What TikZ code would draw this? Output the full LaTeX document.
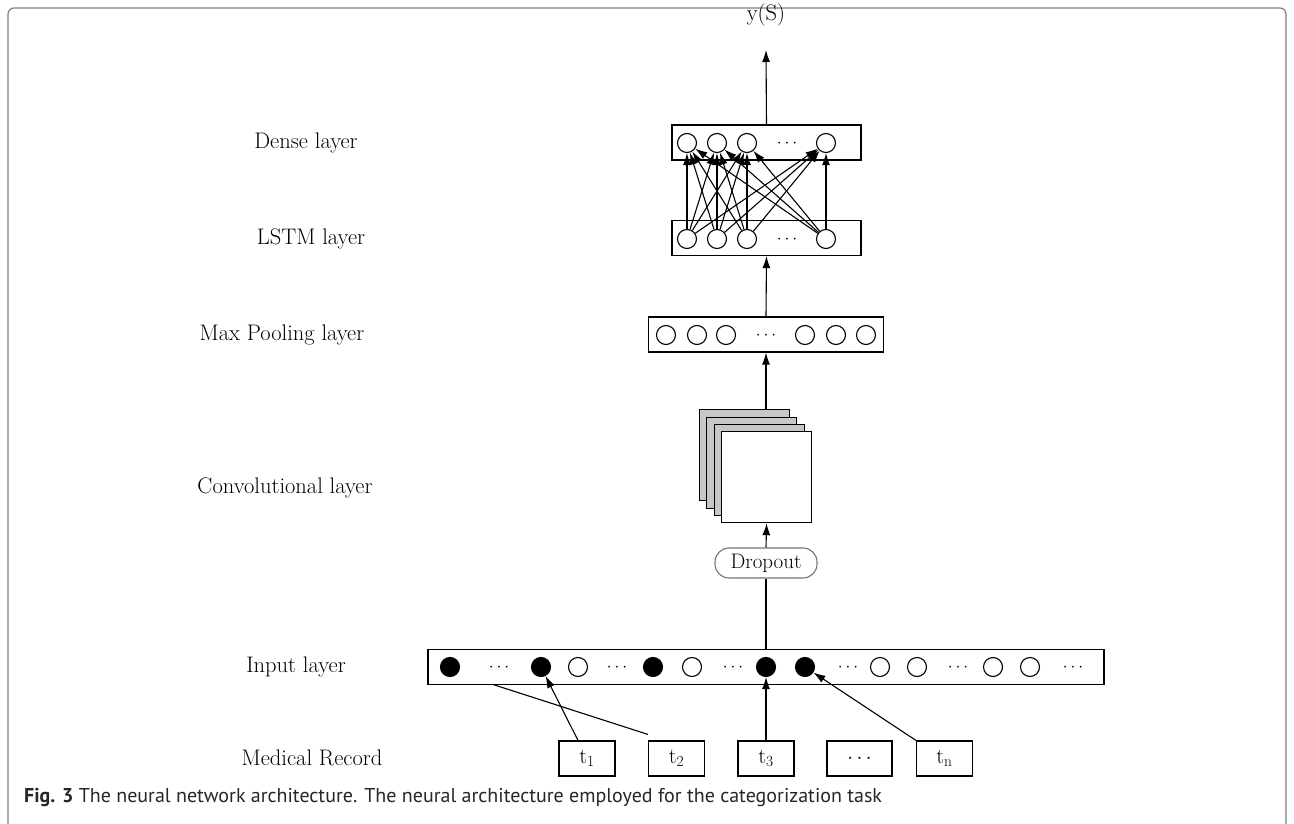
\documentclass[tikz,border=0pt]{standalone}
\usepackage{fontspec}
\newfontfamily\capfont{PT Sans}
\usetikzlibrary{arrows.meta}
\begin{document}
\begin{tikzpicture}[x=1pt,y=-1pt,
  lbl/.style={font=\fontsize{22.5}{26}\selectfont, inner sep=0},
  layerbox/.style={draw, line width=1.2pt, inner sep=0},
  oc/.style={circle, draw, line width=1.1pt, minimum size=19pt, inner sep=0},
  fc/.style={circle, draw, fill=black, line width=1.1pt, minimum size=19pt, inner sep=0},
  dts/.style={font=\fontsize{19}{22}\selectfont, inner sep=0},
  tbox/.style={draw, line width=1.2pt, minimum width=56pt, minimum height=35pt, inner sep=0, font=\fontsize{22}{26}\selectfont},
  arr/.style={-{Latex[length=12pt,width=8pt]}, line width=1.1pt},
  ln/.style={line width=1.1pt},
  convsq/.style={draw, line width=1.2pt, minimum width=90pt, minimum height=91pt, inner sep=0, anchor=north west},
]
\useasboundingbox (0,0) rectangle (1294,824);
\draw[gray, line width=1.2pt, rounded corners=6pt] (8,830) -- (8,8) -- (1286,8) -- (1286,830);

% output
\node[lbl] (ys) at (766,15) {y(S)};
\coordinate (yst) at (766,50);

% dense layer
\node[layerbox, minimum width=189pt, minimum height=35pt] (dense) at (766.5,142.5) {};
\node[oc] (d1) at (687,143) {};
\node[oc] (d2) at (717,143) {};
\node[oc] (d3) at (747,143) {};
\node[dts] (dd) at (787,144) {$\cdots$};
\node[oc] (d4) at (826,143) {};

% LSTM layer
\node[layerbox, minimum width=189pt, minimum height=35pt] (lstm) at (766.5,238) {};
\node[oc] (l1) at (687,239) {};
\node[oc] (l2) at (717,239) {};
\node[oc] (l3) at (747,239) {};
\node[dts] (ld) at (787,240) {$\cdots$};
\node[oc] (l4) at (826,239) {};

\foreach \a in {1,...,4}{
  \foreach \b in {1,...,4}{
    \draw[arr] (l\a) -- (d\b);
  }
}

% max pooling
\node[layerbox, minimum width=235pt, minimum height=35pt] (pool) at (766,334.5) {};
\node[oc] (p1) at (666,335) {};
\node[oc] (p2) at (697,335) {};
\node[oc] (p3) at (726,335) {};
\node[dts] (pd) at (766,336) {$\cdots$};
\node[oc] (p4) at (805,335) {};
\node[oc] (p5) at (836,335) {};
\node[oc] (p6) at (866,335) {};

% convolutional stack
\node[convsq, fill=black!22] (c1) at (698.5,409) {};
\node[convsq, fill=black!22] (c2) at (706,416.5) {};
\node[convsq, fill=black!22] (c3) at (713.5,424) {};
\node[convsq, fill=white] (c4) at (721,431) {};

% dropout
\node[draw=black!55, line width=1.1pt, rounded corners=14pt, minimum width=102pt, minimum height=30pt, inner sep=0, font=\fontsize{21}{24}\selectfont] (drop) at (766,563) {Dropout};

% input layer
\node[layerbox, minimum width=676pt, minimum height=35pt] (inp) at (766,667) {};
\node[fc] (i1) at (450,667) {};
\node[dts] (id1) at (499,668) {$\cdots$};
\node[fc] (i2) at (541,667) {};
\node[oc] (i3) at (578,667) {};
\node[dts] (id2) at (617,668) {$\cdots$};
\node[fc] (i4) at (653,667) {};
\node[oc] (i5) at (692,667) {};
\node[dts] (id3) at (733,668) {$\cdots$};
\node[fc] (i6) at (766,667) {};
\node[fc] (i7) at (805,667) {};
\node[dts] (id4) at (848,668) {$\cdots$};
\node[oc] (i8) at (880,667) {};
\node[oc] (i9) at (917,667) {};
\node[dts] (id5) at (958,668) {$\cdots$};
\node[oc] (i10) at (993,667) {};
\node[oc] (i11) at (1030,667) {};
\node[dts] (id6) at (1073,668) {$\cdots$};
\coordinate (ib) at (493,684.5);

% medical record tokens
\node[tbox] (t1) at (587,758.5) {$\mathrm{t}_{\mathrm{1}}$};
\node[tbox] (t2) at (676.5,758.5) {$\mathrm{t}_{\mathrm{2}}$};
\node[tbox] (t3) at (766,758.5) {$\mathrm{t}_{\mathrm{3}}$};
\node[tbox, minimum width=65pt] (tdots) at (859.5,758.5) {$\cdots$};
\node[tbox] (tn) at (944.5,758.5) {$\mathrm{t}_\mathrm{n}$};

% connectors
\draw[arr] (dense.north) -- (yst);
\draw[arr] (pool.north) -- (lstm.south);
\draw[arr] (c1.north -| pool.south) -- (pool.south);
\draw[arr] (drop.north) -- (c4.south);
\draw[ln] (inp.north) -- (drop.south);
\draw[arr] (t1.north -| 578,0) -- (i2);
\draw[ln] ([yshift=6pt]t2.north west) -- (ib);
\draw[arr] (t3.north) -- (i6);
\draw[arr] (tn.north west) -- (i7);

% labels
\node[lbl] (lden) at (306,143) {Dense layer};
\node[lbl] (llstm) at (311,239) {LSTM layer};
\node[lbl] (lpool) at (282,335) {Max Pooling layer};
\node[lbl] (lconv) at (285,488) {Convolutional layer};
\node[lbl] (linp) at (296,667) {Input layer};
\node[lbl] (lmed) at (312,758) {Medical Record};

% caption
\node[anchor=west, inner sep=0, font=\capfont\fontsize{20}{23}\selectfont, text=black!85] (cap) at (24,798) {\textbf{Fig. 3} The neural network architecture. The neural architecture employed for the categorization task};
\end{tikzpicture}
\end{document}
